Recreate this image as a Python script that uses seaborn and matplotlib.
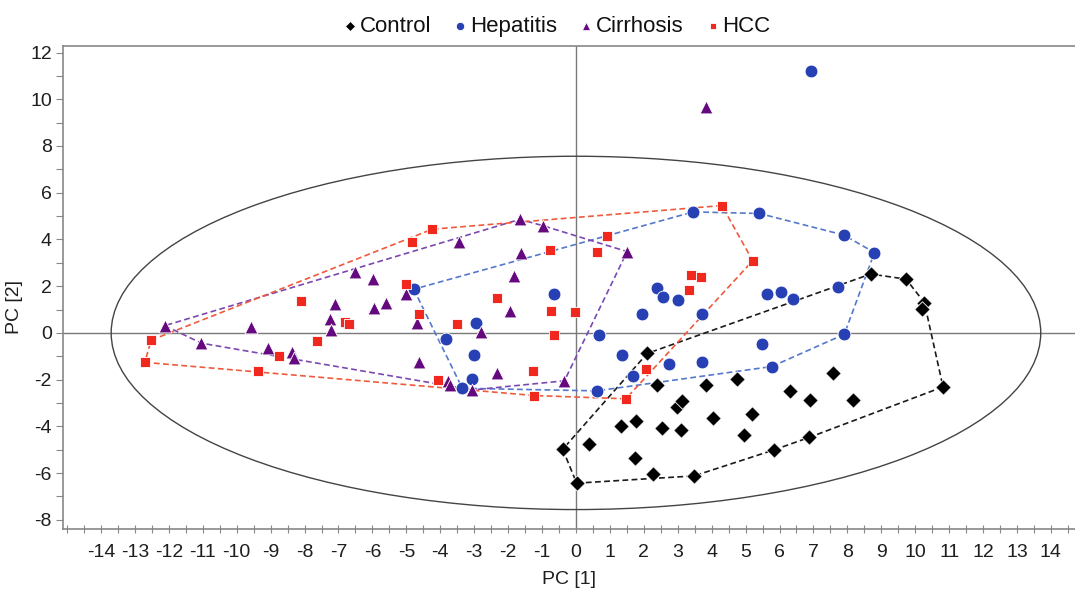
import numpy as np
import pandas as pd
import matplotlib
matplotlib.use("Agg")
import matplotlib.pyplot as plt
from matplotlib.patches import Ellipse
import seaborn as sns

# PCA scores (PC1, PC2) per group
control_x = [2.10, 8.69, 9.73, 10.27, 10.21, 10.82, -0.39, 0.02, 0.38, 1.33,
             1.77, 1.74, 2.28, 2.38, 2.53, 3.09, 2.98, 3.12, 3.48, 3.83,
             4.04, 4.95, 5.20, 4.76, 5.83, 6.31, 6.91, 6.88, 7.59, 8.16]
control_y = [-0.88, 2.52, 2.30, 1.30, 1.03, -2.31, -4.98, -6.43, -4.76, -3.98,
             -3.78, -5.35, -6.03, -2.21, -4.09, -4.15, -3.15, -2.90, -6.12, -2.21,
             -3.64, -4.35, -3.49, -1.98, -5.01, -2.47, -2.85, -4.47, -1.70, -2.85]

hepatitis_x = [3.46, 5.41, 7.89, 8.80, 7.71, 7.91, 5.77, 5.48, 5.64, 6.05,
               6.39, 2.38, 2.56, 3.02, 3.73, 1.94, -0.65, 0.69, 1.36, 2.74,
               3.71, 1.69, 0.61, -4.78, -2.95, -3.83, -3.01, -3.05, -3.35, 6.92]
hepatitis_y = [5.18, 5.11, 4.19, 3.44, 1.98, -0.06, -1.44, -0.46, 1.65, 1.75,
               1.44, 1.94, 1.55, 1.41, 0.83, 0.83, 1.65, -0.10, -0.93, -1.34,
               -1.24, -1.83, -2.48, 1.87, 0.41, -0.27, -0.95, -1.97, -2.37, 11.22]

cirrhosis_x = [-12.12, -11.04, -9.57, -9.09, -8.37, -8.32, -7.26, -7.23, -7.11, -6.51,
               -5.98, -5.96, -5.60, -5.01, -4.69, -4.62, -3.44, -1.65, -0.98, -1.63,
               -1.82, -1.94, -2.81, -2.33, -0.34, -3.77, -3.72, -3.05, 1.51, 3.83]
cirrhosis_y = [0.31, -0.44, 0.27, -0.66, -0.80, -1.08, 0.59, 0.13, 1.23, 2.62,
               2.30, 1.06, 1.30, 1.67, 0.44, -1.26, 3.91, 4.86, 4.59, 3.41,
               2.44, 0.94, 0.04, -1.70, -2.05, -2.05, -2.25, -2.44, 3.48, 9.66]

hcc_x = [-12.71, -12.52, -9.37, -8.76, -8.09, -7.63, -6.80, -6.68, -5.01, -4.62,
         -4.82, -4.23, -3.52, -2.32, -0.77, 0.91, 0.63, -0.75, -0.03, -0.65,
         -1.28, -4.06, -1.23, 1.47, 4.30, 5.21, 3.38, 3.69, 3.32, 2.06]
hcc_y = [-1.26, -0.31, -1.65, -0.98, 1.37, -0.34, 0.45, 0.38, 2.10, 0.83,
         3.88, 4.44, 0.36, 1.48, 3.55, 4.15, 3.45, 0.94, 0.91, -0.11,
         -1.65, -2.01, -2.68, -2.82, 5.45, 3.09, 2.48, 2.38, 1.84, -1.54]

groups = ["Control", "Hepatitis", "Cirrhosis", "HCC"]
xs = [control_x, hepatitis_x, cirrhosis_x, hcc_x]
ys = [control_y, hepatitis_y, cirrhosis_y, hcc_y]

# Hotelling T2 ellipse semi-axes
t2_a, t2_b = 13.7, 7.56

x_ticks = list(range(-14, 15))
y_ticks = list(range(-8, 13, 2))

marker_colors = {"Control": "#000000", "Hepatitis": "#2741b5",
                 "Cirrhosis": "#650a7e", "HCC": "#f0281e"}
hull_colors = {"Control": "#1a1a1a", "Hepatitis": "#5577cc",
               "Cirrhosis": "#7a48b0", "HCC": "#f05a3c"}
markers = {"Control": "D", "Hepatitis": "o", "Cirrhosis": "^", "HCC": "s"}
sizes = {"Control": 62, "Hepatitis": 85, "Cirrhosis": 85, "HCC": 60}

df = pd.concat([pd.DataFrame({"PC1": x, "PC2": y, "Group": g})
                for g, x, y in zip(groups, xs, ys)], ignore_index=True)


def convex_hull(points):
    pts = sorted(set(points))
    if len(pts) < 3:
        return pts

    def cross(o, a, b):
        return (a[0] - o[0]) * (b[1] - o[1]) - (a[1] - o[1]) * (b[0] - o[0])

    lower, upper = [], []
    for p in pts:
        while len(lower) >= 2 and cross(lower[-2], lower[-1], p) <= 0:
            lower.pop()
        lower.append(p)
    for p in reversed(pts):
        while len(upper) >= 2 and cross(upper[-2], upper[-1], p) <= 0:
            upper.pop()
        upper.append(p)
    return lower[:-1] + upper[:-1]


sns.set_theme(style="white")
plt.rcParams["font.family"] = ["Liberation Sans", "DejaVu Sans"]
text_color = "#1e1e1e"

fig = plt.figure(figsize=(10.75, 5.93), dpi=100)
ax = fig.add_axes([0.0586, 0.108, 0.9414, 0.8145])

ax.axhline(0, color="#7a7a7a", lw=1.0, zorder=1)
ax.axvline(0, color="#7a7a7a", lw=1.0, zorder=1)
ax.add_patch(Ellipse((0, 0), 2 * t2_a, 2 * t2_b, fill=False,
                     ec="#444444", lw=1.0, zorder=1))

# dashed hull around each group's points lying within the T2 ellipse
for g, x, y in zip(groups, xs, ys):
    inside = [(a, b) for a, b in zip(x, y) if (a / t2_a) ** 2 + (b / t2_b) ** 2 <= 1]
    hull = convex_hull(inside)
    hx = [p[0] for p in hull] + [hull[0][0]]
    hy = [p[1] for p in hull] + [hull[0][1]]
    ax.plot(hx, hy, ls=(0, (3.5, 2)), lw=1.2, color=hull_colors[g], zorder=2)

for g in groups:
    sub = df[df["Group"] == g]
    sns.scatterplot(data=sub, x="PC1", y="PC2", marker=markers[g],
                    color=marker_colors[g], s=sizes[g], edgecolor="white",
                    linewidth=0.6, ax=ax, zorder=3, label=g)

ax.set_xlim(-15.12, 14.71)
ax.set_ylim(-8.39, 12.28)
ax.set_xticks(x_ticks)
ax.set_xticklabels([str(t) for t in x_ticks])
ax.set_yticks(y_ticks)
ax.set_yticklabels([str(t) for t in y_ticks])
ax.set_xticks(np.arange(-15, 15, 0.5), minor=True)
ax.set_yticks(np.arange(-8, 13, 1), minor=True)
ax.tick_params(axis="x", which="both", direction="inout", length=6,
               width=0.8, color="#888888", labelsize=14, pad=8, bottom=True,
               labelcolor=text_color)
ax.tick_params(axis="y", which="both", direction="out", length=5,
               width=0.8, color="#888888", labelsize=14, pad=3, left=True,
               labelcolor=text_color)
ax.set_xlabel("PC [1]", fontsize=14, labelpad=7, color=text_color)
ax.set_ylabel("PC [2]", fontsize=14, labelpad=0, color=text_color)
ax.yaxis.set_label_coords(-0.04, 0.46)

for side in ["left", "bottom", "top"]:
    ax.spines[side].set_color("#888888")
    ax.spines[side].set_linewidth(1.2)
ax.spines["right"].set_visible(False)

handles, labels = ax.get_legend_handles_labels()
leg = ax.legend(handles, labels, loc="lower center", bbox_to_anchor=(0.488, 1.0),
                ncol=4, frameon=False, fontsize=16, markerscale=0.65,
                handletextpad=0.15, columnspacing=1.0, borderaxespad=0.0,
                handlelength=0.6)
for t in leg.get_texts():
    t.set_color("#111111")

fig.savefig("out.png", dpi=100)
